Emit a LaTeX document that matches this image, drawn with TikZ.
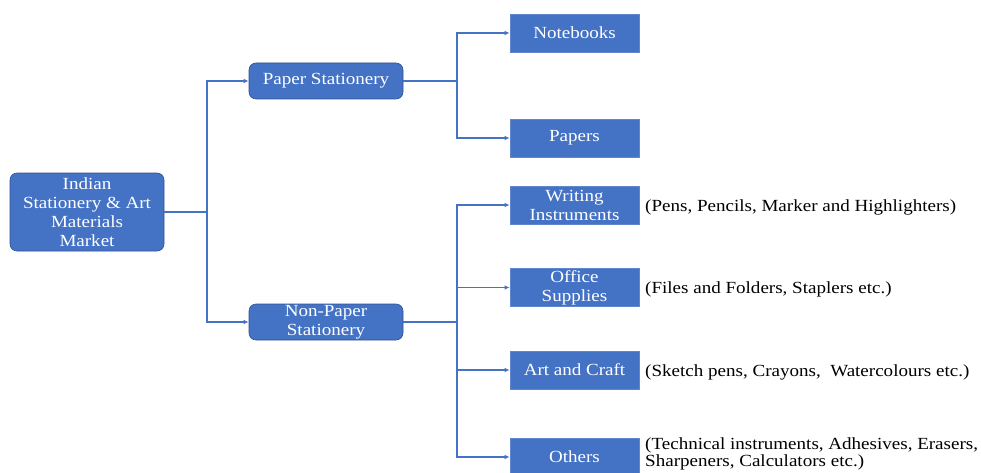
\documentclass[tikz,border=0pt]{standalone}
\usepackage{fontspec}
\setmainfont{Liberation Serif}[FakeStretch=1.12]
\usetikzlibrary{arrows.meta}
\definecolor{boxblue}{HTML}{4472C4}
\definecolor{boxedge}{HTML}{2F528F}
\definecolor{linkblue}{HTML}{4472C4}
\begin{document}
\begin{tikzpicture}[x=1pt,y=-1pt,
  rbox/.style={draw=boxedge,line width=0.6pt,fill=boxblue,rounded corners=7pt,text=white,align=center,inner sep=0pt,font=\fontsize{17}{19}\selectfont},
  sbox/.style={draw=boxblue!85!white,line width=0.6pt,fill=boxblue,text=white,align=center,inner sep=0pt,minimum width=129pt,minimum height=38pt,font=\fontsize{17}{19}\selectfont},
  desc/.style={anchor=west,inner sep=0pt,align=left,font=\fontsize{17}{18.5}\selectfont},
  link/.style={draw=linkblue,line width=1.3pt},
  arr/.style={link,-{Latex[length=5pt,width=4.5pt]}}]
\useasboundingbox (0,0) rectangle (981,473);
\clip (0,0) rectangle (981,473);
% nodes
\node[rbox,minimum width=154pt,minimum height=78pt] (root) at (87,212) {Indian\\Stationery \& Art\\Materials\\Market};
\node[rbox,minimum width=154pt,minimum height=36pt] (paper) at (326,81) {Paper Stationery};
\node[rbox,minimum width=154pt,minimum height=36pt] (nonpaper) at (326,322) {Non-Paper\\Stationery};
\node[sbox] (note) at (574.5,33) {Notebooks};
\node[sbox] (papers) at (574.5,138) {Papers};
\node[sbox] (writing) at (574.5,205) {Writing\\Instruments};
\node[sbox] (office) at (574.5,287.5) {Office\\Supplies};
\node[sbox] (art) at (574.5,370) {Art and Craft};
\node[sbox] (others) at (574.5,457) {Others};
% descriptions
\node[desc] (dw) at (645,207) {(Pens, Pencils, Marker and Highlighters)};
\node[desc] (do) at (645,289) {(Files and Folders, Staplers etc.)};
\node[desc] (da) at (645,372) {(Sketch pens, Crayons,\ \ Watercolours etc.)};
\node[desc,font=\fontsize{17}{17.5}\selectfont] (dx) at (645,454) {(Technical instruments, Adhesives, Erasers,\\Sharpeners, Calculators etc.)};
% junctions
\coordinate (j1) at (207,212);
\coordinate (j2) at (457,81);
\coordinate (j3) at (457,322);
% connectors
\draw[link] (root.east) -- (j1);
\draw[arr] (j1) |- (paper.west);
\draw[arr] (j1) |- (nonpaper.west);
\draw[link] (paper.east) -- (j2);
\draw[arr] (j2) |- (note.west);
\draw[arr] (j2) |- (papers.west);
\draw[link] (nonpaper.east) -- (j3);
\draw[arr] (j3) |- (writing.west);
\draw[arr] (j3) |- (office.west);
\draw[arr] (j3) |- (art.west);
\draw[arr] (j3) |- (others.west);
\end{tikzpicture}
\end{document}
